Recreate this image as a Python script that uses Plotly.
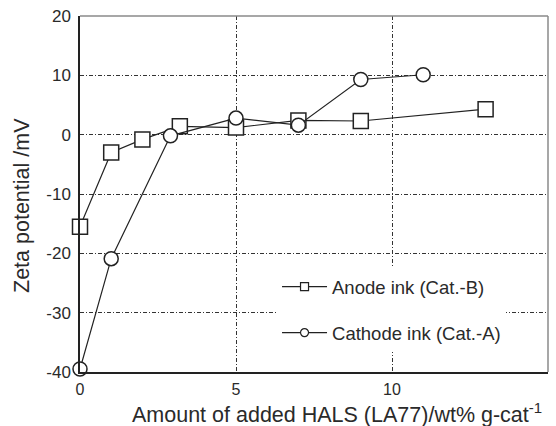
import plotly.graph_objects as go

anode_x = [0, 1, 2, 3.2, 5, 7, 9, 13]
anode_y = [-15.5, -3.0, -0.8, 1.4, 1.2, 2.4, 2.3, 4.3]
cathode_x = [0, 1, 2.9, 5, 7, 9, 11]
cathode_y = [-39.5, -20.9, -0.2, 2.8, 1.6, 9.3, 10.1]
names = ["Anode ink (Cat.-B)", "Cathode ink (Cat.-A)"]
x_ticks = [0, 5, 10, 15]
x_labels = ["0", "5", "10", "15"]
y_ticks = [-40, -30, -20, -10, 0, 10, 20]
y_labels = ["-40", "-30", "-20", "-10", "0", "10", "20"]

FONT = "Liberation Sans, Arial, sans-serif"
INK = "#222222"
TXT = "#2a2a2a"

fig = go.Figure()
for xs, ys, sym in [(anode_x, anode_y, "square"), (cathode_x, cathode_y, "circle")]:
    fig.add_trace(go.Scatter(
        x=xs, y=ys, mode="lines+markers", showlegend=False,
        line=dict(color=INK, width=1.2),
        marker=dict(symbol=sym, size=15 if sym == "square" else 14, color="white",
                    line=dict(color=INK, width=1.5)),
        cliponaxis=False,
    ))
for i, (nm, sym) in enumerate(zip(names, ["square", "circle"])):
    fig.add_trace(go.Scatter(
        x=[None], y=[None], mode="lines+markers", name=nm, legendgroup=str(i),
        line=dict(color=INK, width=1.2),
        marker=dict(symbol=sym, size=8, color="white", line=dict(color=INK, width=1.2)),
    ))

fig.update_layout(
    width=556, height=426,
    margin=dict(l=80, r=8, t=16, b=54),
    paper_bgcolor="white", plot_bgcolor="white",
    font=dict(family=FONT, size=16, color=TXT),
    showlegend=True,
    legend=dict(x=0.421, y=0.292, xanchor="left", yanchor="top",
                bgcolor="white", borderwidth=0, font=dict(size=18.5, color=TXT),
                traceorder="grouped", tracegroupgap=19, itemwidth=45),
    xaxis=dict(range=[0, 15], tickvals=x_ticks, ticktext=x_labels, showgrid=True,
               gridcolor="#333333", griddash="4px,2px,1px,2px", gridwidth=1,
               showline=True, linecolor=INK, linewidth=1.5,
               ticks="outside", ticklen=2, tickcolor="rgba(0,0,0,0)",
               zeroline=False, tickfont=dict(size=16)),
    yaxis=dict(range=[-40, 20], tickvals=y_ticks, ticktext=y_labels, showgrid=True,
               gridcolor="#333333", griddash="4px,2px,1px,2px", gridwidth=1,
               showline=True, linecolor=INK, linewidth=1.5,
               ticks="outside", ticklen=4, tickcolor="rgba(0,0,0,0)",
               zeroline=False, tickfont=dict(size=17)),
    shapes=[
        dict(type="line", xref="paper", yref="paper", x0=0, x1=1, y0=1, y1=1,
             line=dict(color="#8a8a8a", width=1.5)),
        dict(type="line", xref="paper", yref="paper", x0=1, x1=1, y0=0, y1=1,
             line=dict(color="#8a8a8a", width=1.5)),
    ],
    annotations=[
        dict(text="Amount of added HALS (LA77)/wt% g-cat<sup>-1</sup>",
             xref="paper", yref="paper", x=(337 - 80) / 468, y=-(413 - 372) / 356,
             xanchor="center", yanchor="middle", showarrow=False,
             font=dict(size=21.5, color=TXT)),
        dict(text="Zeta potential /mV", textangle=-90,
             xref="paper", yref="paper", x=-(80 - 22) / 468, y=(372 - 206) / 356,
             xanchor="center", yanchor="middle", showarrow=False,
             font=dict(size=21.5, color=TXT)),
    ],
)

fig.write_html("out.html", config={"displayModeBar": False},
               post_script="document.body.style.margin='0';document.body.style.overflow='hidden';")
